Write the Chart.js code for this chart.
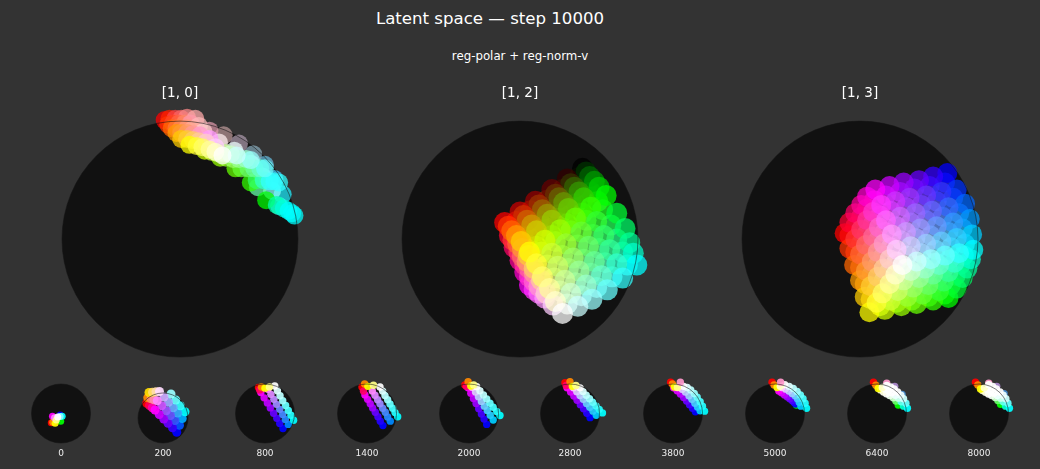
<!DOCTYPE html>
<html>
<head>
<meta charset="utf-8">
<script src="https://cdn.jsdelivr.net/npm/chart.js"></script>
<style>
  body { margin: 0; background: #333; width: 1040px; height: 469px; position: relative; overflow: hidden; font-family: "DejaVu Sans", sans-serif; color: #fff; }
  canvas { position: absolute; }
  .head { position: absolute; white-space: nowrap; transform: translate(-50%, -50%); }
</style>
</head>
<body>
<div class="head" style="left:490px;top:18px;font-size:16.6px">Latent space — step 10000</div>
<div class="head" style="left:520px;top:56px;font-size:11.8px">reg-polar + reg-norm-v</div>
<script>
const p10x = [87,80,72,62,50,37,25, 84,78,70,66,60,46,33,20, 73,82,88,92,95,97, 60,65,71,76,80,84, 47,52,58,63,68,72, 34,39,45,50,56,60, 21,27,32,38,43,48,
  -13,-9,-4,1,6,13, -10,-6,-1,4,9,16, -7,-3,1,6,11,20, -3,1,6,11,17,25, 1,6,11,16,22,30, 8,14,19,25,30,36];
const p10y = [38,51,63,72,81,88,92, 28,41,53,44,64,75,82,86, 33,29,26,24,22,20, 48,50,50,49,49,48, 60,60,60,60,60,60, 69,69,68,68,68,67, 75,74,73,73,72,71,
  101,102,102,102,103,102, 97,98,98,98,98,96, 94,94,94,94,93,91, 90,90,90,89,88,85, 85,85,84,83,82,78, 80,79,78,76,74,71];
const p10c = ('2ef 4cf 6bd 8ab a9a b99 d9a 4ff 8ff bff 6fa dff eff fee fdd 0f0 0fa 0fd 0ff 0ff 0ff 3f0 3f6 3fc 3ff 3ff 3ff ' +
  '6f0 6f3 6f6 6f9 6fc 6ff 9f0 9f3 9f6 9f9 9fc 9ff cf0 cf3 cf6 cf9 cfc cff ' +
  'f00 f20 f44 f66 f88 faa f30 f42 f64 f86 f9a fbb f60 f73 f85 f97 fa9 fcc f90 f93 f96 f99 f9c f9f fc0 fc3 fc6 fc9 fcc fcf ff0 ff3 ff6 ff9 ffc fff').split(' ');

// points between the grid rows, they sit under the main grid
const p12underX = [50,56,60,66, 36,43,47,53, 23,30,34,40, 9,16,20,27, -3,3,7,14,
  70,77,82,87,91, 56,62,67,72,78, 43,49,54,60,65, 30,36,41,47,52, 18,23,29,34,40];
const p12underY = [52,44,40,32, 42,35,30,22, 33,26,21,13, 24,16,11,3, 15,7,2,-6,
  25,12,0,-11,-22, 16,4,-8,-20,-32, 7,-5,-17,-29,-41, -2,-14,-25,-37,-48, -11,-22,-33,-44,-55];
const p12underC = ('230 290 2c0 2f0 530 590 5c0 5f0 830 890 8c0 8f0 b30 b90 bc0 bf0 e30 e90 ec0 ef0 ' +
  '2f2 2f5 2f8 2fb 2fe 5f2 5f5 5f8 5fb 5fe 8f2 8f5 8f8 8fb 8fe bf2 bf5 bf8 bfb bfe ef2 ef5 ef8 efb efe').split(' ');
const p12x = [53,56,59,63,67,73,82,89,93,96,99, 40,43,46,50,54,60,65,71,76,82,87, 27,30,33,37,41,47,52,58,63,69,74,
  13,16,19,23,27,34,39,45,50,56,61, 0,3,6,10,14,21,27,32,38,43,49,
  -13,-9,-5,0,4,8, -10,-6,-1,4,8,12, -7,-2,2,8,12,16, -3,2,6,12,16,21, 1,7,12,18,22,28, 8,14,19,25,30,36];
const p12y = [60,57,53,49,44,37,22,9,-3,-12,-22, 51,47,44,40,35,27,15,3,-9,-21,-33, 42,38,35,31,26,18,6,-6,-19,-31,-43,
  32,29,25,21,16,8,-4,-16,-27,-39,-51, 23,20,16,12,7,-1,-12,-23,-35,-46,-57,
  14,3,-7,-18,-28,-39, 11,-1,-11,-22,-32,-43, 7,-4,-15,-25,-36,-46, 3,-8,-19,-29,-40,-50, -2,-14,-25,-35,-46,-56, -11,-21,-32,-42,-53,-63];
const p12c = ('000 030 060 090 0c0 0f0 0f3 0f6 0f9 0fc 0ff 300 330 360 390 3c0 3f0 3f3 3f6 3f9 3fc 3ff ' +
  '600 630 660 690 6c0 6f0 6f3 6f6 6f9 6fc 6ff 900 930 960 990 9c0 9f0 9f3 9f6 9f9 9fc 9ff ' +
  'c00 c30 c60 c90 cc0 cf0 cf3 cf6 cf9 cfc cff ' +
  'f00 f03 f06 f09 f0c f0f f30 f33 f36 f39 f3c f3f f60 f63 f66 f69 f6c f6f f90 f93 f96 f99 f9c f9f fc0 fc3 fc6 fc9 fcc fcf ff0 ff3 ff6 ff9 ffc fff').split(' ');

const p13underX = [72,79,84,87,89, 59,65,70,75,77, 46,52,56,60,64, 34,39,43,47,52, 22,26,31,35,40,
  72,77,81,85,88, 58,62,66,71,76, 44,49,54,59,64, 31,36,41,46,52, 17,23,28,34,39,
  -9,-4,1,6,12, -4,1,6,11,17, 0,5,10,15,21, 4,10,15,20,26, 9,14,20,25,31];
const p13underY = [48,35,22,9,-4, 45,32,19,6,-7, 43,29,16,3,-9, 40,27,14,1,-12, 37,24,11,-1,-14,
  -47,-39,-31,-22,-14, -49,-41,-33,-25,-17, -52,-44,-36,-28,-20, -54,-46,-38,-30,-22, -57,-49,-41,-33,-25,
  3,11,19,26,33, -11,-3,5,13,20, -24,-16,-8,-1,6, -38,-30,-22,-14,-7, -51,-43,-35,-27,-19];
const p13underC = ('22f 25f 28f 2bf 2ef 52f 55f 58f 5bf 5ef 82f 85f 88f 8bf 8ef b2f b5f b8f bbf bef e2f e5f e8f ebf eef ' +
  '2f2 2f5 2f8 2fb 2fe 5f2 5f5 5f8 5fb 5fe 8f2 8f5 8f8 8fb 8fe bf2 bf5 bf8 bfb bfe ef2 ef5 ef8 efb efe ' +
  'f22 f25 f28 f2b f2e f52 f55 f58 f5b f5e f82 f85 f88 f8b f8e fb2 fb5 fb8 fbb fbe fe2 fe5 fe8 feb fee').split(' ');
const p13x = [74,82,89,93,95,75,82,87,91,94,96, 62,69,75,79,82,62,67,71,75,80,84, 50,56,61,65,69,48,53,58,62,67,72,
  37,42,47,51,56,35,40,45,50,55,60, 25,30,34,39,43,21,26,32,37,43,48,
  -13,-9,-4,1,6,13, -9,-4,1,6,11,18, -5,0,5,11,16,22, 0,5,10,15,20,27, 4,9,15,20,25,31, 8,14,19,25,30,36];
const p13y = [56,42,30,17,4,-50,-42,-33,-25,-17,-9, 53,40,27,14,1,-52,-44,-36,-28,-20,-12, 50,37,24,11,-2,-55,-47,-39,-30,-22,-14,
  48,35,22,9,-4,-57,-49,-41,-33,-25,-17, 45,32,19,6,-6,-60,-52,-44,-35,-27,-19,
  5,14,22,29,36,42, -8,0,8,16,23,29, -22,-13,-5,2,10,16, -35,-27,-19,-11,-4,4, -49,-40,-32,-25,-17,-9, -62,-54,-46,-38,-30,-22];
const p13c = ('00f 03f 06f 09f 0cf 0f0 0f3 0f6 0f9 0fc 0ff 30f 33f 36f 39f 3cf 3f0 3f3 3f6 3f9 3fc 3ff ' +
  '60f 63f 66f 69f 6cf 6f0 6f3 6f6 6f9 6fc 6ff 90f 93f 96f 99f 9cf 9f0 9f3 9f6 9f9 9fc 9ff ' +
  'c0f c3f c6f c9f ccf cf0 cf3 cf6 cf9 cfc cff ' +
  'f00 f03 f06 f09 f0c f0f f30 f33 f36 f39 f3c f3f f60 f63 f66 f69 f6c f6f f90 f93 f96 f99 f9c f9f fc0 fc3 fc6 fc9 fcc fcf ff0 ff3 ff6 ff9 ffc fff').split(' ');

// small history panels
const stepLabels = ['0','200','800','1400','2000','2800','3800','5000','6400','8000'];
const stripViolet = '00f 08f 0ff 20f 28f 2ff 40f 48f 4ff 60f 68f 6ff 90f 98f 9ff b0f b8f bff d0f d8f dff f0f f8f fff'.split(' ');
const stripPale = '00f 0cf 0ff 20f 2cf 2ff 40f 4cf 4ff 60f 6cf 6ff 90f 9cf 9ff b0f bcf bff d0f dcf dff f0f fcf fff'.split(' ');
const stripWhite = '0f0 0fc 0ff 6f6 6fe 6ff cfc cfe cff efe eff eff fff fff fff ffe fff fff ffc fff fff ff0 ffc fff'.split(' ');
const topCap = 'f00 f06 f80 ff0 ff8'.split(' ');

const s0x = [-3,-1,4,-3,-33,-29,-28,-20,-22,-16,-11];
const s0y = [-5,-26,-9,-10,-31,-9,-30,-33,-14,-22,-12];
const s0c = '00f 0f0 0ff 8ff f00 f0f f80 ff0 f8f ff8 fff'.split(' ');

const s200x = [55,66,77,88, 38,48,59,69, 20,30,41,51, 3,13,22,32, -15,-5,4,14, -65,-54,-43,-32, -61,-48,-36,-23, -56,-42,-28,-14, -52,-36,-21,-5];
const s200y = [-57,-29,-2,25, -39,-10,20,49, -21,10,41,72, -4,29,63,96, 14,49,84,119, 59,50,41,32, 81,77,73,69, 102,103,105,106, 124,130,137,143];
const s200c = '00f 05f 0af 0ff 30f 35f 3af 3ff 60f 65f 6af 6ff 90f 95f 9af 9ff c0f c5f caf cff f00 f05 f0a f0f f80 f86 f8a f8f fd0 fd6 fda fdf ff0 ff5 ffa fff'.split(' ');

const s800x = [61,79,97, 50,69,88, 40,60,79, 29,50,70, 18,39,60, 8,30,51, -3,20,42, -14,10,33, -22,-18,-12,0,15];
const s800y = [-51,-37,-23, -34,-20,-6, -16,-3,10, 1,14,27, 19,31,43, 36,48,60, 53,65,77, 71,82,93, 88,80,90,86,90];

const s1400x = [54,79,104, 45,70,95, 37,62,87, 28,53,78, 19,44,70, 11,36,61, 2,27,53, -7,18,44, -17,-12,-8,3,22];
const s1400y = [-41,-26,-11, -26,-12,3, -11,4,18, 4,18,32, 19,33,47, 33,47,61, 48,62,76, 63,76,90, 90,76,100,92,96];

const s2000x = [60,82,105, 51,72,94, 42,62,82, 33,52,71, 24,42,60, 15,32,49, 6,22,37, -3,11,26, -14,-9,-3,6,16];
const s2000y = [-37,-22,-7, -19,-6,7, -2,10,21, 16,25,35, 34,41,49, 51,57,63, 69,73,77, 87,89,91, 97,92,108,93,97];

const s2800x = [68,89,110, 57,78,99, 46,67,88, 35,56,77, 24,45,66, 13,34,55, 2,23,44, -10,12,34, -17,-13,0,8,20];
const s2800y = [-14,-6,2, 1,8,14, 16,21,26, 30,34,38, 45,48,50, 59,61,62, 73,74,75, 87,87,87, 104,95,108,92,95];

const s3800x = [76,92,107, 66,83,100, 56,74,92, 46,64,82, 36,54,72, 25,42,60, 14,31,48, 2,19,36, -8,-2,5,15,25];
const s3800y = [6,9,8, 18,22,25, 30,35,40, 42,48,55, 54,60,68, 66,73,80, 77,82,88, 87,90,92, 106,100,90,88,106];
const s3800cap = 'f00 f80 ff0 ff8 f9c'.split(' ');

const s5000x = [73, 70,88,107, 64,82,102, 58,76,95, 50,68,86, 41,58,75, 32,47,62, 22,35,48, 13,23,33, -10,-3,7,18,19];
const s5000y = [29, 32,25,18, 38,38,35, 44,50,50, 50,60,63, 57,68,75, 63,76,85, 70,83,92, 76,88,98, 106,97,88,92,106];
const s5000cap = 'f00 f80 ff0 ffc f9c'.split(' ');

const backRow = 'f00 f80 f9c a8c 48c'.split(' ');
const s6400x = [-12,-4,33,60,85, 72,90,103, 64,82,98, 55,73,90, 43,62,81, 32,50,70, 22,39,58, 12,28,46, 4,18,33];
const s6400y = [106,96,103,92,65, 29,25,18, 42,40,35, 53,52,50, 61,62,62, 67,70,73, 73,77,83, 80,82,90, 85,88,95];

const s8000x = [-12,-4,33,60,85, 73,90,103, 64,82,98, 55,73,91, 43,62,82, 32,50,71, 22,39,59, 12,28,46, 5,18,33];
const s8000y = [106,97,103,92,67, 31,25,18, 44,40,35, 54,52,50, 61,61,62, 66,69,73, 72,76,83, 78,81,92, 83,87,98];

// disc behind the points, thin outline over them
const discPath = (chart) => {
  const { x, y } = chart.scales;
  chart.ctx.beginPath();
  chart.ctx.arc(x.getPixelForValue(0), y.getPixelForValue(0), x.getPixelForValue(100) - x.getPixelForValue(0), 0, Math.PI * 2);
};
const discPlugin = {
  id: 'disc',
  beforeDatasetsDraw(chart) {
    chart.ctx.save();
    discPath(chart);
    chart.ctx.fillStyle = '#111';
    chart.ctx.fill();
    chart.ctx.restore();
  },
  afterDatasetsDraw(chart) {
    chart.ctx.save();
    discPath(chart);
    chart.ctx.strokeStyle = 'rgba(20,20,20,0.55)';
    chart.ctx.lineWidth = 1;
    chart.ctx.stroke();
    chart.ctx.restore();
  }
};

const makePanel = (xs, ys, colors, opt) => {
  const canvas = document.createElement('canvas');
  canvas.width = opt.w;
  canvas.height = opt.h;
  canvas.style.left = opt.left + 'px';
  canvas.style.top = opt.top + 'px';
  document.body.appendChild(canvas);
  return new Chart(canvas.getContext('2d'), {
    type: 'scatter',
    data: {
      datasets: [{
        data: xs.map((x, i) => ({ x, y: ys[i] })),
        pointBackgroundColor: colors.map(c => '#' + c + opt.alpha),
        pointBorderWidth: 0,
        pointRadius: opt.r,
        clip: false
      }]
    },
    options: {
      responsive: false,
      animation: false,
      events: [],
      layout: { padding: opt.padding },
      scales: {
        x: { min: -100, max: 100, display: false },
        y: { min: -100, max: 100, display: false }
      },
      plugins: {
        legend: { display: false },
        tooltip: { enabled: false },
        title: {
          display: true,
          text: opt.title,
          position: opt.titlePos,
          color: opt.titleColor,
          font: { family: '"DejaVu Sans"', size: opt.titleSize, weight: 'normal' },
          padding: opt.titlePad
        }
      }
    },
    plugins: [discPlugin]
  });
};

// big panels
const big = { w: 340, h: 300, top: 76, r: 10, alpha: 'b', titlePos: 'top', titleColor: '#fff', titleSize: 13.5,
  titlePad: { top: 9, bottom: 20 }, padding: { left: 52, right: 52, top: 0, bottom: 19 } };
makePanel(p10x, p10y, p10c, { ...big, left: 10, title: '[1, 0]', r: 9 });
makePanel([...p12underX, ...p12x], [...p12underY, ...p12y], [...p12underC, ...p12c], { ...big, left: 350, title: '[1, 2]', r: 10.5 });
makePanel([...p13underX, ...p13x], [...p13underY, ...p13y], [...p13underC, ...p13c], { ...big, left: 690, title: '[1, 3]' });

// history row
const smallCx = [61, 163, 265, 367, 469, 570, 672.5, 774.5, 877, 978.5];
const smallSeries = [
  [s0x, s0y, s0c],
  [s200x, s200y, s200c],
  [s800x, s800y, [...stripViolet, ...topCap]],
  [s1400x, s1400y, [...stripViolet, ...topCap]],
  [s2000x, s2000y, [...stripPale, ...topCap]],
  [s2800x, s2800y, [...stripPale, ...topCap]],
  [s3800x, s3800y, [...stripPale, ...s3800cap]],
  [s5000x, s5000y, ['0f0', ...stripPale, ...s5000cap]],
  [s6400x, s6400y, [...backRow, ...stripWhite]],
  [s8000x, s8000y, [...backRow, ...stripWhite]]
];
smallSeries.forEach(([xs, ys, cs], i) => {
  const rad = i === 1 ? 25 : 29.5;
  const side = 51 - rad;
  makePanel(xs, ys, cs, {
    w: 102, h: 92, left: smallCx[i] - 51, top: 375,
    r: i === 0 ? 3.5 : i === 1 ? 4.5 : 3.7,
    alpha: 'e',
    title: stepLabels[i], titlePos: 'bottom', titleColor: '#eee', titleSize: 9,
    titlePad: { top: 5.6, bottom: 7.6 },
    padding: { left: side, right: side, top: 68 - 2 * rad, bottom: 0 }
  });
});
</script>
</body>
</html>
